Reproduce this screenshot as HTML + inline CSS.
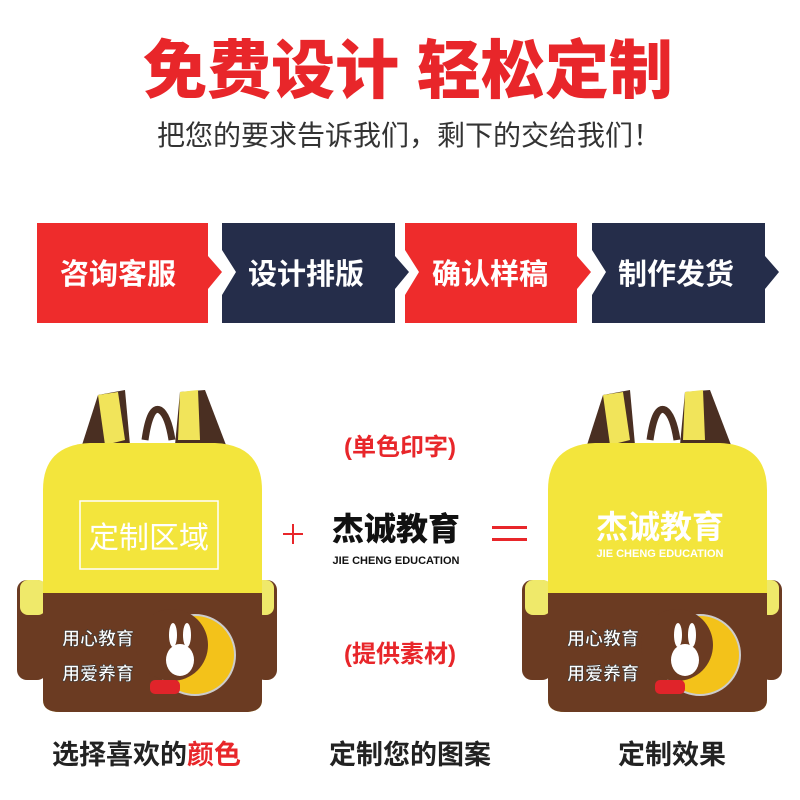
<!DOCTYPE html>
<html><head><meta charset="utf-8"><style>
body{margin:0;background:#fff;}
svg{display:block}
text{font-family:"Liberation Sans","Noto Sans CJK SC",sans-serif;}
</style></head><body>
<svg width="800" height="800" viewBox="0 0 800 800" xmlns="http://www.w3.org/2000/svg">
<rect width="800" height="800" fill="#fff"/>
<text x="408" y="93" text-anchor="middle" font-size="64" font-weight="900" fill="#e8262a">免费设计 轻松定制</text>
<text x="409" y="145" text-anchor="middle" font-size="28" fill="#333">把您的要求告诉我们，剩下的交给我们！</text>

<polygon points="37,223 208,223 208,256 222,272 208,289 208,323 37,323" fill="#ee2c2c"/>
<polygon points="222,223 395,223 395,256 409,272 395,289 395,323 222,323 222,295 236,272 222,250" fill="#252d4a"/>
<polygon points="405,223 577,223 577,256 591,272 577,289 577,323 405,323 405,295 419,272 405,250" fill="#ee2c2c"/>
<polygon points="592,223 765,223 765,256 779,272 765,289 765,323 592,323 592,295 606,272 592,250" fill="#252d4a"/>
<g font-size="29" font-weight="bold" fill="#fff" text-anchor="middle">
<text x="118" y="284">咨询客服</text>
<text x="306" y="284">设计排版</text>
<text x="490" y="284">确认样稿</text>
<text x="676" y="284">制作发货</text>
</g>

<g>
<path d="M82,445 L98,395 L125,390 L130,445 Z" fill="#4a2f22"/>
<path d="M98,395 L118,392 L125,440 L105,445 Z" fill="#f1e45a"/>
<path d="M175,445 L180,392 L205,390 L226,445 Z" fill="#4a2f22"/>
<path d="M180,392 L198,390 L200,440 L178,440 Z" fill="#f1e45a"/>
<path d="M145,440 Q150,405 160,410 Q168,415 172,440" fill="none" stroke="#4a2f22" stroke-width="7"/>
<rect x="17" y="580" width="30" height="100" rx="10" fill="#6b3b22"/>
<rect x="20" y="580" width="26" height="35" rx="8" fill="#efe96a"/>
<rect x="255" y="580" width="22" height="100" rx="10" fill="#6b3b22"/>
<rect x="255" y="580" width="19" height="35" rx="8" fill="#efe96a"/>
<path d="M43,700 L43,490 Q43,445 90,443 L215,443 Q262,445 262,490 L262,700 Q262,712 245,712 L60,712 Q43,712 43,700 Z" fill="#f3e53c"/>
<path d="M43,593 L262,593 L262,700 Q262,712 245,712 L60,712 Q43,712 43,700 Z" fill="#6b3b22"/>
<circle cx="195" cy="655" r="40" fill="#f3c21a" stroke="#ccc" stroke-width="2"/>
<circle cx="172" cy="645" r="36" fill="#6b3b22"/>
<ellipse cx="180" cy="660" rx="14" ry="16" fill="#fff"/>
<ellipse cx="173" cy="635" rx="4" ry="12" fill="#fff"/>
<ellipse cx="187" cy="635" rx="4" ry="12" fill="#fff"/>
<rect x="150" y="680" width="30" height="14" rx="5" fill="#e0242a"/>
<text x="62" y="645" font-size="18" font-weight="bold" fill="#fff" stroke="#333" stroke-width="0.6">用心教育</text>
<text x="62" y="680" font-size="18" font-weight="bold" fill="#fff" stroke="#333" stroke-width="0.6">用爱养育</text>
</g>
<rect x="80" y="501" width="138" height="68" fill="none" stroke="#fff" stroke-width="1.5"/>
<text x="149" y="548" text-anchor="middle" font-size="30" fill="#fff">定制区域</text>

<g transform="translate(505,0)">
<path d="M82,445 L98,395 L125,390 L130,445 Z" fill="#4a2f22"/>
<path d="M98,395 L118,392 L125,440 L105,445 Z" fill="#f1e45a"/>
<path d="M175,445 L180,392 L205,390 L226,445 Z" fill="#4a2f22"/>
<path d="M180,392 L198,390 L200,440 L178,440 Z" fill="#f1e45a"/>
<path d="M145,440 Q150,405 160,410 Q168,415 172,440" fill="none" stroke="#4a2f22" stroke-width="7"/>
<rect x="17" y="580" width="30" height="100" rx="10" fill="#6b3b22"/>
<rect x="20" y="580" width="26" height="35" rx="8" fill="#efe96a"/>
<rect x="255" y="580" width="22" height="100" rx="10" fill="#6b3b22"/>
<rect x="255" y="580" width="19" height="35" rx="8" fill="#efe96a"/>
<path d="M43,700 L43,490 Q43,445 90,443 L215,443 Q262,445 262,490 L262,700 Q262,712 245,712 L60,712 Q43,712 43,700 Z" fill="#f3e53c"/>
<path d="M43,593 L262,593 L262,700 Q262,712 245,712 L60,712 Q43,712 43,700 Z" fill="#6b3b22"/>
<circle cx="195" cy="655" r="40" fill="#f3c21a" stroke="#ccc" stroke-width="2"/>
<circle cx="172" cy="645" r="36" fill="#6b3b22"/>
<ellipse cx="180" cy="660" rx="14" ry="16" fill="#fff"/>
<ellipse cx="173" cy="635" rx="4" ry="12" fill="#fff"/>
<ellipse cx="187" cy="635" rx="4" ry="12" fill="#fff"/>
<rect x="150" y="680" width="30" height="14" rx="5" fill="#e0242a"/>
<text x="62" y="645" font-size="18" font-weight="bold" fill="#fff" stroke="#333" stroke-width="0.6">用心教育</text>
<text x="62" y="680" font-size="18" font-weight="bold" fill="#fff" stroke="#333" stroke-width="0.6">用爱养育</text>
</g>
<text x="660" y="538" text-anchor="middle" font-size="32" font-weight="bold" fill="#fff">杰诚教育</text>
<text x="660" y="557" text-anchor="middle" font-size="11" font-weight="bold" fill="#fff">JIE CHENG EDUCATION</text>

<text x="400" y="455" text-anchor="middle" font-size="24" font-weight="bold" fill="#e8262a">(单色印字)</text>
<rect x="283" y="533" width="20" height="2" fill="#e8262a"/>
<rect x="292" y="524" width="2" height="20" fill="#e8262a"/>
<text x="396" y="540" text-anchor="middle" font-size="32" font-weight="900" fill="#111">杰诚教育</text>
<text x="396" y="564" text-anchor="middle" font-size="11" font-weight="bold" fill="#111">JIE CHENG EDUCATION</text>
<rect x="492" y="526" width="35" height="3" fill="#e8262a"/>
<rect x="492" y="538" width="35" height="3" fill="#e8262a"/>
<text x="400" y="662" text-anchor="middle" font-size="24" font-weight="bold" fill="#e8262a">(提供素材)</text>

<text x="52" y="764" font-size="27" font-weight="bold" fill="#222">选择喜欢的<tspan fill="#e8262a">颜色</tspan></text>
<text x="410" y="764" text-anchor="middle" font-size="27" font-weight="bold" fill="#222">定制您的图案</text>
<text x="672" y="764" text-anchor="middle" font-size="27" font-weight="bold" fill="#222">定制效果</text>
</svg>
</body></html>
